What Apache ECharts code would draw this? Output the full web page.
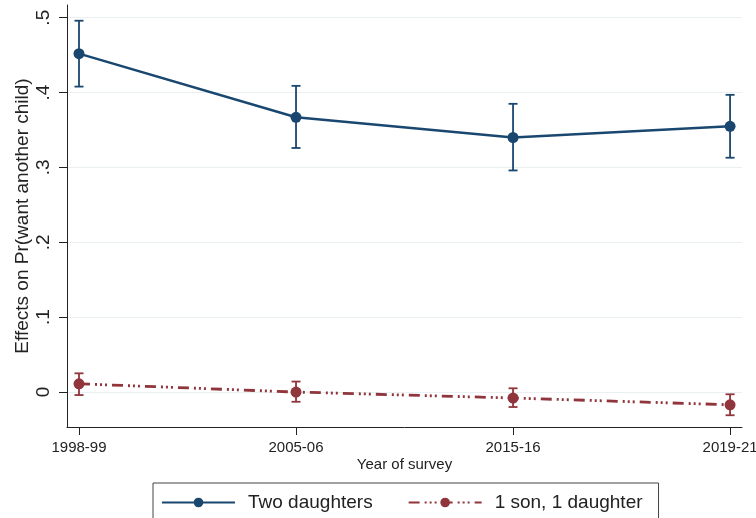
<!DOCTYPE html>
<html>
<head>
<meta charset="utf-8">
<script src="https://cdn.jsdelivr.net/npm/echarts@6/dist/echarts.min.js"></script>
<style>
  html, body { margin: 0; padding: 0; background: #fff; }
  #chart { width: 756px; height: 518px; }
</style>
</head>
<body>
<div id="chart"></div>
<script>
// survey rounds
const years = ['1998-99', '2005-06', '2015-16', '2019-21'];

// Two daughters: estimate and 95% CI
const twoDaughters = [0.452, 0.367, 0.340, 0.355];
const twoDaughtersLow = [0.408, 0.326, 0.296, 0.313];
const twoDaughtersHigh = [0.496, 0.409, 0.385, 0.397];

// 1 son, 1 daughter: estimate and 95% CI
const sonDaughter = [0.011, 0.000, -0.008, -0.017];
const sonDaughterLow = [-0.004, -0.013, -0.020, -0.031];
const sonDaughterHigh = [0.025, 0.014, 0.005, -0.003];

const yTicks = [0, 0.1, 0.2, 0.3, 0.4, 0.5];
const yTickLabels = ['0', '.1', '.2', '.3', '.4', '.5'];

const blue = '#1a476f';
const red = '#90353b';

function points(vals) {
    return vals.map(function (v, i) { return [i, v]; });
}
function bars(low, high) {
    return low.map(function (v, i) { return [i, v, high[i]]; });
}

function errorBar(color) {
    return function (params, api) {
        const x = api.value(0);
        const lo = api.coord([x, api.value(1)]);
        const hi = api.coord([x, api.value(2)]);
        const w = 4.5;
        const style = { stroke: color, lineWidth: 1.8 };
        return {
            type: 'group',
            children: [
                { type: 'line', shape: { x1: lo[0], y1: lo[1], x2: hi[0], y2: hi[1] }, style: style },
                { type: 'line', shape: { x1: lo[0] - w, y1: lo[1], x2: lo[0] + w, y2: lo[1] }, style: style },
                { type: 'line', shape: { x1: hi[0] - w, y1: hi[1], x2: hi[0] + w, y2: hi[1] }, style: style }
            ]
        };
    };
}

const myChart = echarts.init(document.getElementById('chart'));
const option = {
    animation: false,
    backgroundColor: '#fff',
    grid: { left: 67, right: 14, top: 5, bottom: 91, containLabel: false, outerBoundsMode: 'none' },
    legend: {
        left: 153,
        top: 483,
        padding: [10, 16, 10, 8],
        itemGap: 35,
        itemWidth: 73,
        itemHeight: 12,
        borderColor: '#444',
        borderWidth: 1,
        textStyle: { fontFamily: 'Liberation Sans', fontSize: 19, color: '#222', padding: [0, 0, 0, 8] },
        data: ['Two daughters', '1 son, 1 daughter']
    },
    xAxis: {
        type: 'value',
        min: -0.0553,
        max: 3.055,
        name: 'Year of survey',
        nameLocation: 'middle',
        nameGap: 30,
        nameMoveOverlap: false,
        nameTextStyle: { fontFamily: 'Liberation Sans', fontSize: 15, color: '#222' },
        axisLine: { show: true, onZero: false, lineStyle: { color: '#222', width: 1 } },
        axisTick: { show: true, length: 8, customValues: [0, 1, 2, 3], lineStyle: { color: '#222' } },
        axisLabel: {
            customValues: [0, 1, 2, 3],
            margin: 13,
            fontFamily: 'Liberation Sans',
            fontSize: 15,
            color: '#222',
            formatter: function (v) { return years[Math.round(v)]; }
        },
        splitLine: { show: false }
    },
    yAxis: {
        type: 'value',
        min: -0.0467,
        max: 0.517,
        name: 'Effects on Pr(want another child)',
        nameLocation: 'middle',
        nameGap: 35,
        nameMoveOverlap: false,
        nameTextStyle: { fontFamily: 'Liberation Sans', fontSize: 19, color: '#222' },
        axisLine: { show: true, onZero: false, lineStyle: { color: '#222', width: 1 } },
        axisTick: { show: true, length: 8, customValues: yTicks, lineStyle: { color: '#222' } },
        axisLabel: {
            customValues: yTicks,
            rotate: 90,
            margin: 14,
            fontFamily: 'Liberation Sans',
            fontSize: 19,
            color: '#222',
            formatter: function (v) { return yTickLabels[yTicks.indexOf(Math.round(v * 10) / 10)]; }
        },
        splitLine: { show: true, lineStyle: { color: '#eaeff1', width: 1 } }
    },
    series: [
        {
            name: 'Two daughters',
            type: 'line',
            data: points(twoDaughters),
            symbol: 'circle',
            symbolSize: 11,
            itemStyle: { color: blue },
            lineStyle: { color: blue, width: 2.5 },
            z: 3
        },
        {
            name: 'Two daughters CI',
            type: 'custom',
            data: bars(twoDaughtersLow, twoDaughtersHigh),
            renderItem: errorBar(blue),
            z: 2
        },
        {
            name: '1 son, 1 daughter',
            type: 'line',
            data: points(sonDaughter),
            symbol: 'circle',
            symbolSize: 11,
            itemStyle: { color: red },
            lineStyle: { color: red, width: 2.8, type: [11, 5, 2, 3, 2, 3, 2, 5] },
            z: 3
        },
        {
            name: '1 son, 1 daughter CI',
            type: 'custom',
            data: bars(sonDaughterLow, sonDaughterHigh),
            renderItem: errorBar(red),
            z: 2
        }
    ]
};
myChart.setOption(option);
</script>
</body>
</html>
